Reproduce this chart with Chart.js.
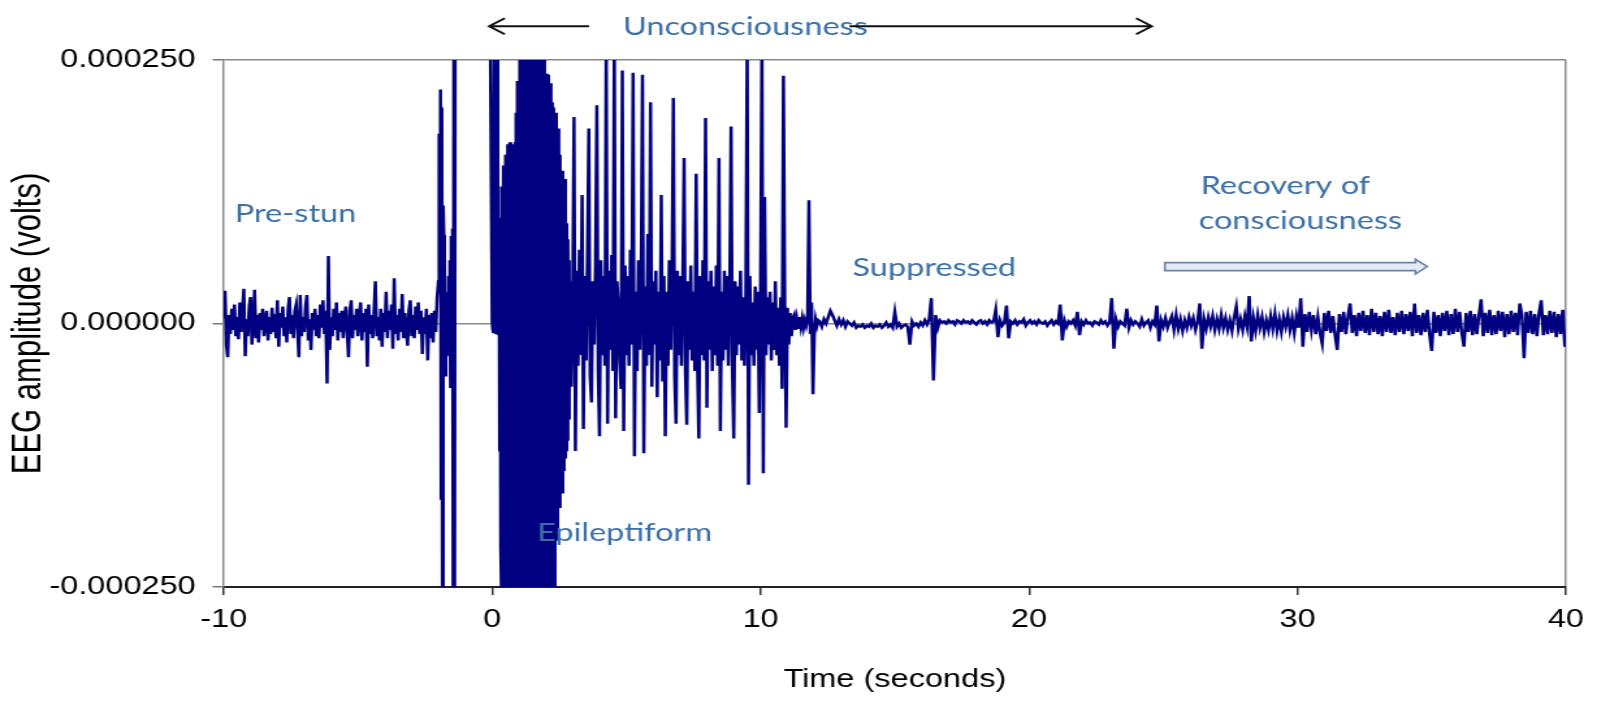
<!DOCTYPE html>
<html>
<head>
<meta charset="utf-8">
<title>EEG amplitude</title>
<script src="https://cdn.jsdelivr.net/npm/chart.js@4.4.1/dist/chart.umd.min.js"></script>
<style>
  html, body { margin: 0; padding: 0; background: #fff; overflow: hidden; }
  /* the source figure is stretched sideways, so draw it narrow and widen it */
  #wrap { width: 1228px; height: 706px; transform: scaleX(1.3005); transform-origin: 0 0; }
</style>
</head>
<body>
<div id="wrap"><canvas id="eeg" width="1228" height="706"></canvas></div>
<script>
// EEG trace in microvolts
// pre-stun baseline: -10 s .. -2.05 s, every 0.05 s
const preStunStart = -10, preStunStep = 0.05;
const preStun = [
  5, 31, -20, -32, 8, -10, 14, -6, 18, -12,
  6, -15, 20, -8, 12, 33, -31, 4, -12, 16,
  25, -20, 2, 32, -14, 8, -18, 10, -6, 14,
  -12, 4, 12, -16, 6, -10, 15, -8, 9, -14,
  22, -22, 10, -4, 16, -12, 6, -18, 14, 25,
  -10, 8, -14, 12, 18, -6, -32, 27, -12, 6,
  -8, 16, 27, -16, 4, -25, 10, -6, 14, -12,
  8, -14, 18, -4, 22, -10, 12, -57, 64, -25,
  6, -12, 14, -6, 20, -16, 10, -8, 12, -14,
  6, 16, -10, -32, 12, 22, -14, 8, -6, 14,
  -12, 6, 20, -16, 10, -8, 14, -41, 18, -10,
  8, -14, 12, 40, -12, 6, -16, 14, -22, 10,
  -8, 30, -14, 12, -6, 18, -24, 43, -10, 8,
  -16, 14, -8, 28, -14, 10, -6, -21, 12, 22,
  -12, 8, -14, 16, -6, 20, -10, 12, -29, 6,
  -10, 14, -35, 8, -14, 10, -18, 12, -8, 25
];
// stun artefact: -2 s .. -1.375 s, every 0.025 s
const onsetStart = -2, onsetStep = 0.025;
const onset = [
  40, 180, 30, 222, -166, 205, -300, 112, 84, 65,
  -49, 20, -25, 30, -15, 45, -30, 60, -60, 83,
  10, 90, -320, 330, -300, 400
];
// trace off the top of the scale until just before 0 s
const offScaleStart = -1.35, offScaleStep = 0.625;
const offScale = [400, 400, 400];
// epileptiform burst: 0 .. 2.88 s, every 0.02 s
const burstStart = 0, burstStep = 0.02;
const burst = [
  2, -5, -8, 150, 280, 60, -6, -9, -4, 120,
  270, 40, -10, 84, -120, 100, -212, 130, -260, 90,
  -215, 150, -270, 120, -230, 160, -265, 140, -280, 170,
  -260, 165, -275, 172, -250, 150, -285, 170, -262, 168,
  -290, 160, -270, 172, -255, 200, -280, 230, -265, 210,
  -290, 275, -260, 240, -280, 285, -270, 220, -290, 280,
  -265, 260, -285, 290, -270, 235, -290, 280, -260, 270,
  -285, 245, -275, 290, -265, 275, -290, 230, -280, 285,
  -270, 260, -285, 280, -260, 245, -290, 275, -270, 225,
  -285, 270, -265, 250, -280, 232, -270, 260, -285, 220,
  -260, 237, -275, 215, -262, 236, -255, 205, -270, 228,
  -245, 210, -260, 200, -230, 205, -250, 180, -205, 200,
  -190, 170, -200, 185, -168, 150, -175, 160, -150, 137,
  -160, 145, -133, 125, -140, 137, -128, 110, -120, 95,
  -110, 80, -90, 60, -70
];
// spike and wave: 2.9 .. 12.15 s, every 0.05 s
const spikesStart = 2.9, spikesStep = 0.05;
const spikes = [
  40, -60, 20, 196, -121, 50, -40, 70, -30, 122,
  -100, 45, -35, 60, 185, -50, -75, 40, -20, 55,
  207, -45, -107, 60, -30, 45, -40, 270, -95, 50,
  -25, 65, -45, 270, -90, 40, 20, -35, -62, 240,
  -102, 55, -30, 45, -40, 70, -20, 238, -126, 30,
  -45, 60, -25, 40, 236, -123, 35, -40, 85, -30,
  210, -60, 40, -20, 50, -70, 30, -35, 122, -55,
  45, -107, 30, -40, 60, -25, 40, 214, -50, -95,
  50, -30, 45, -40, 35, 157, -45, -96, 40, -25,
  55, -35, 30, -45, 142, -40, -109, 45, -30, 60,
  -35, 195, -80, 40, -25, 50, -45, 35, -30, 55,
  -40, 157, -102, 30, -35, 50, -25, 45, -40, 30,
  187, -45, -109, 40, -30, 35, -20, 50, -35, 25,
  -40, 30, 270, -153, 45, -30, 20, -40, 35, -25,
  30, -85, 40, 270, -142, 120, -30, 25, -20, 30,
  -35, 20, -25, 40, -30, 15, -40, 25, -62, 235,
  20, -99, 15, -20, 10, -12, 5, 8, -6, 4,
  -5, 6, -3, 5, -4, 3, -2, 4, 117, -10,
  20, -67, -12, 4, -2, 3
];
// suppressed and recovering: 12.2 .. 39.96 s, every 0.08 s
const suppressedStart = 12.2, suppressedStep = 0.08;
const suppressed = [
  2, -3, 4, 0, 6, 12, 8, 3, -2, 4,
  -1, 3, -3, 2, 0, -2, 1, -4, -2, -3,
  -1, -4, -2, -3, 0, -4, -2, -3, -1, -4,
  -2, 1, -3, -1, -4, 11, -3, 0, -4, -2,
  -1, -3, -20, 2, -2, 0, -3, 1, -2, 3,
  -1, 4, 24, -54, 8, -4, 3, 1, 2, 0,
  3, 1, 2, -1, 3, 2, 0, 3, 1, 2,
  0, 3, 1, -1, 2, 3, 0, 2, -1, 3,
  1, 2, 13, -13, 3, -2, 1, 17, -14, 2,
  0, 3, -1, 2, 1, 4, -2, 1, 3, 0,
  2, -1, 3, 1, 0, 2, -2, 1, 3, -1,
  2, 0, 18, -16, 3, -3, 2, 0, 3, -2,
  11, -11, 2, -1, 3, 0, 1, -2, 2, 1,
  -1, 3, 0, 2, -2, 1, 24, -24, 4, -3,
  2, 0, -2, 14, -4, 3, -1, 2, 0, -3,
  4, -2, 1, 3, -4, 2, -1, 17, -17, 3,
  -3, 5, -4, 2, 7, -6, 8, -5, 4, -7,
  3, -4, 6, -2, 5, -6, 2, 19, -24, 4,
  -5, 6, -3, 7, -6, 4, -5, 8, -4, 5,
  -6, 3, -7, 6, 16, -5, 4, -6, 7, -3,
  26, -17, 5, -7, 8, -4, 6, -8, 3, -6,
  7, -5, 9, -7, 4, -8, 6, -3, 8, -6,
  5, -9, 7, -4, 24, -22, 9, -8, 11, -6,
  8, -10, 6, -9, -19, 10, -7, 12, -9, 7,
  -11, -25, 9, -8, 11, -10, 6, 19, -9, 8,
  -12, 10, -7, 12, -9, 8, -11, 14, -8, 10,
  -10, 7, -12, 11, -8, 13, -9, 6, -11, 10,
  -8, 12, -10, 9, -7, 11, -12, 19, -9, 8,
  -11, 10, -8, 13, -10, -26, 11, -9, 8, -12,
  10, -7, 12, -11, 9, -10, 14, -8, 11, -9,
  -22, 10, -8, 12, -11, 9, -10, 8, 23, -12,
  10, -9, 13, -11, 8, -10, 12, -7, 11, -13,
  9, -10, 12, -8, 10, -11, 19, 8, -33, 11,
  -9, 12, -10, 9, -12, 10, 22, -11, 8, -10,
  12, -9, 11, -13, 9, -10, 13, -22
];

const xTicks = [-10, 0, 10, 20, 30, 40];
const yTicks = [-0.00025, 0, 0.00025];

// annotations: text, time of left edge (s), baseline level (µV)
const noteTexts = ['Pre-stun', 'Epileptiform', 'Suppressed', 'Recovery of', 'consciousness', 'Unconsciousness'];
const noteTimes = [-9.59, 1.67, 13.42, 26.39, 26.32, 4.87];
const noteLevels = [96, -206, 45, 123, 90, 274];
const unconsciousArrows = [[3.61, -0.11], [13.31, 24.57]];
const arrowLevel = 282;
const recoveryArrow = [25.06, 34.83];
const recoveryLevel = 54;

function toPoints(start, step, values) {
  return values.map((v, i) => ({ x: +(start + i * step).toFixed(4), y: v * 1e-6 }));
}

const trace = [].concat(
  toPoints(preStunStart, preStunStep, preStun),
  toPoints(onsetStart, onsetStep, onset),
  toPoints(offScaleStart, offScaleStep, offScale),
  toPoints(burstStart, burstStep, burst),
  toPoints(spikesStart, spikesStep, spikes),
  toPoints(suppressedStart, suppressedStep, suppressed)
);

const axisFont = { family: '"Liberation Sans", Arial, sans-serif', size: 25 };
const borderGrey = '#8a8a8a';

const annotations = {
  id: 'annotations',
  afterDatasetsDraw(chart) {
    const { ctx } = chart;
    const px = t => chart.scales.x.getPixelForValue(t);
    const py = uv => chart.scales.y.getPixelForValue(uv * 1e-6);
    ctx.save();
    ctx.font = '25px Lato';
    ctx.fillStyle = '#3a6fa8';
    ctx.textAlign = 'left';
    ctx.textBaseline = 'alphabetic';
    noteTexts.forEach((s, i) => ctx.fillText(s, px(noteTimes[i]), py(noteLevels[i])));

    // black arrows either side of "Unconsciousness"
    ctx.strokeStyle = '#111';
    ctx.lineWidth = 2;
    const ay = py(arrowLevel);
    unconsciousArrows.forEach(([from, to]) => {
      const x1 = px(from), x2 = px(to), d = Math.sign(x2 - x1);
      ctx.beginPath();
      ctx.moveTo(x1, ay);
      ctx.lineTo(x2, ay);
      ctx.moveTo(x2 - d * 12, ay - 8);
      ctx.lineTo(x2, ay);
      ctx.lineTo(x2 - d * 12, ay + 8);
      ctx.stroke();
    });

    // hollow block arrow under "Recovery of consciousness"
    const bx1 = px(recoveryArrow[0]), bx2 = px(recoveryArrow[1]), by = py(recoveryLevel);
    ctx.beginPath();
    ctx.moveTo(bx1, by - 4);
    ctx.lineTo(bx2 - 9, by - 4);
    ctx.lineTo(bx2 - 9, by - 7.5);
    ctx.lineTo(bx2, by);
    ctx.lineTo(bx2 - 9, by + 7.5);
    ctx.lineTo(bx2 - 9, by + 4);
    ctx.lineTo(bx1, by + 4);
    ctx.closePath();
    ctx.fillStyle = '#e3ebf5';
    ctx.fill();
    ctx.strokeStyle = '#6c83a3';
    ctx.lineWidth = 1.6;
    ctx.stroke();
    ctx.restore();
  }
};

new Chart(document.getElementById('eeg'), {
  type: 'line',
  data: {
    datasets: [{
      data: trace,
      borderColor: '#000080',
      borderWidth: 2.5,
      pointRadius: 0,
      tension: 0,
      clip: 0
    }]
  },
  options: {
    responsive: false,
    animation: false,
    events: [],
    layout: { padding: { top: 60, right: 7, bottom: 0, left: 0 } },
    plugins: { legend: { display: false }, tooltip: { enabled: false } },
    scales: {
      x: {
        type: 'linear',
        min: -10,
        max: 40,
        afterBuildTicks: s => { s.ticks = xTicks.map(v => ({ value: v })); },
        afterFit: s => { s.height = 119; },
        ticks: { color: '#000', font: axisFont, padding: 10 },
        grid: {
          color: c => (c.tick && c.tick.value === 40 ? borderGrey : 'rgba(0,0,0,0)'),
          lineWidth: 1.5,
          tickColor: '#333',
          tickWidth: 1.5,
          tickLength: 8
        },
        border: { color: '#222', width: 2 },
        title: {
          display: true,
          text: 'Time (seconds)',
          color: '#000',
          font: axisFont,
          padding: { top: 0, bottom: 11 }
        }
      },
      y: {
        min: -0.00025,
        max: 0.00025,
        afterBuildTicks: s => { s.ticks = yTicks.map(v => ({ value: v })); },
        afterFit: s => { s.width = 172; },
        ticks: {
          color: '#000',
          font: axisFont,
          padding: 13,
          callback: v => (Math.abs(v) < 1e-12 ? 0 : v).toFixed(6)
        },
        grid: {
          color: c => (c.tick && c.tick.value < 0 ? 'rgba(0,0,0,0)' : borderGrey),
          lineWidth: 1.5,
          tickColor: '#777',
          tickWidth: 1.5,
          tickLength: 8.5
        },
        border: { color: borderGrey, width: 1.5 },
        title: {
          display: true,
          text: 'EEG amplitude (volts)',
          color: '#000',
          font: { family: '"Liberation Sans", Arial, sans-serif', size: 31 },
          padding: { top: 4, bottom: 0 }
        }
      }
    }
  },
  plugins: [annotations]
});
</script>
</body>
</html>
